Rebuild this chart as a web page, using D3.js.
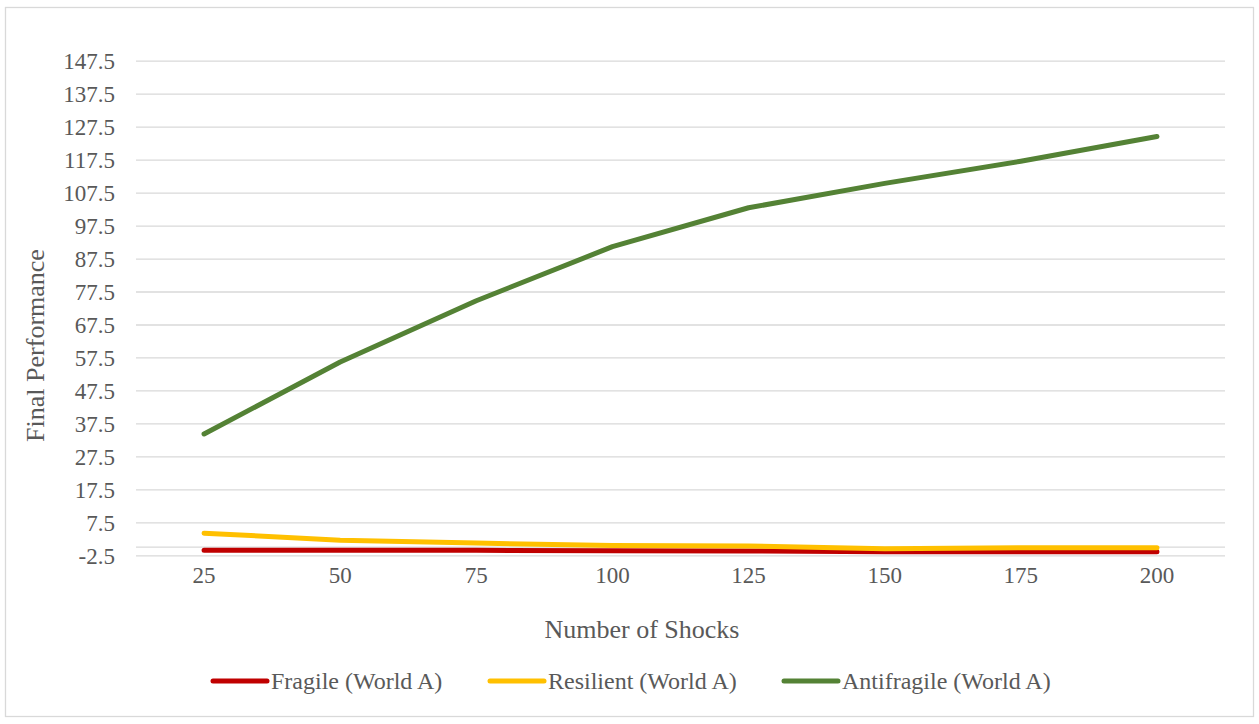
<!DOCTYPE html>
<html>
<head>
<meta charset="utf-8">
<script src="https://cdn.jsdelivr.net/npm/d3@7"></script>
<style>
  html, body { margin: 0; padding: 0; background: #fff; }
  svg text { font-family: "Liberation Serif", "Times New Roman", serif; fill: #595959; }
</style>
</head>
<body>
<svg id="chart" width="1259" height="724"></svg>
<script>
// Number of shocks on the category axis
const shocks = [25, 50, 75, 100, 125, 150, 175, 200];

// Final performance per strategy
const fragile     = [-1.0, -1.0, -1.0, -1.1, -1.2, -1.4, -1.4, -1.4];
const resilient   = [4.2, 2.1, 1.2, 0.5, 0.3, -0.5, -0.2, -0.2];
const antifragile = [34.3, 56.1, 74.7, 91.1, 102.9, 110.3, 117.0, 124.5];

const seriesNames = ["Fragile (World A)", "Resilient (World A)", "Antifragile (World A)"];
const seriesColors = ["#C00000", "#FFC000", "#548235"];

// Value axis ticks
const yTicks = [-2.5, 7.5, 17.5, 27.5, 37.5, 47.5, 57.5, 67.5, 77.5, 87.5, 97.5, 107.5, 117.5, 127.5, 137.5, 147.5];

const series = [fragile, resilient, antifragile].map((vals, i) => ({
  name: seriesNames[i],
  color: seriesColors[i],
  values: vals.map((v, j) => ({ x: shocks[j], y: v }))
}));

const svg = d3.select("#chart");

// outer frame
svg.append("rect")
  .attr("x", 5.5).attr("y", 7.5)
  .attr("width", 1248).attr("height", 709)
  .attr("fill", "#fff")
  .attr("stroke", "#d9d9d9").attr("stroke-width", 1.3);

const plot = { left: 136, right: 1225, top: 60.7, bottom: 555.3 };

const x = d3.scaleBand()
  .domain(shocks)
  .range([plot.left, plot.right]);

const y = d3.scaleLinear()
  .domain([-2.5, 147.5])
  .range([plot.bottom, plot.top]);

// value labels use a plain hyphen for negatives
const fmt = d3.formatLocale({ decimal: ".", thousands: ",", grouping: [3], currency: ["", ""], minus: "-" }).format(".1f");

// horizontal gridlines
const yAxis = d3.axisLeft(y)
  .tickValues(yTicks)
  .tickFormat(fmt)
  .tickSize(-(plot.right - plot.left))
  .tickPadding(21);

const gy = svg.append("g")
  .attr("transform", `translate(${plot.left},0)`)
  .call(yAxis);
gy.select(".domain").remove();
gy.selectAll(".tick line").attr("stroke", "#d9d9d9").attr("stroke-width", 1.3);
gy.selectAll(".tick text")
  .attr("font-size", 23)
  .attr("fill", "#595959")
  .attr("dy", "0.34em");

// horizontal axis line at zero
svg.append("line")
  .attr("x1", plot.left).attr("x2", plot.right)
  .attr("y1", y(0)).attr("y2", y(0))
  .attr("stroke", "#d9d9d9").attr("stroke-width", 1.3);

// category labels
const xAxis = d3.axisBottom(x).tickSize(0).tickPadding(0);
const gx = svg.append("g")
  .attr("transform", `translate(0,${plot.bottom})`)
  .call(xAxis);
gx.select(".domain").remove();
gx.selectAll(".tick text")
  .attr("font-size", 23)
  .attr("fill", "#595959")
  .attr("y", 28)
  .attr("dy", 0);

// series lines
const line = d3.line()
  .x(d => x(d.x) + x.bandwidth() / 2)
  .y(d => y(d.y));

svg.append("g").selectAll("path")
  .data(series)
  .join("path")
  .attr("d", d => line(d.values))
  .attr("fill", "none")
  .attr("stroke", d => d.color)
  .attr("stroke-width", 5)
  .attr("stroke-linecap", "round")
  .attr("stroke-linejoin", "round");

// axis titles
svg.append("text")
  .attr("x", 642).attr("y", 638)
  .attr("text-anchor", "middle")
  .attr("font-size", 26)
  .text("Number of Shocks");

svg.append("text")
  .attr("transform", "translate(44,345.5) rotate(-90)")
  .attr("text-anchor", "middle")
  .attr("font-size", 26)
  .text("Final Performance");

// legend
const legendX = [213, 490, 784];
const legendY = 681;
const lg = svg.append("g").selectAll("g")
  .data(series)
  .join("g")
  .attr("transform", (d, i) => `translate(${legendX[i]},${legendY})`);
lg.append("line")
  .attr("x1", 0).attr("x2", 54)
  .attr("y1", 0).attr("y2", 0)
  .attr("stroke", d => d.color)
  .attr("stroke-width", 5)
  .attr("stroke-linecap", "round");
lg.append("text")
  .attr("x", 58).attr("y", 0)
  .attr("dy", "0.34em")
  .attr("font-size", 24)
  .text(d => d.name);
</script>
</body>
</html>
